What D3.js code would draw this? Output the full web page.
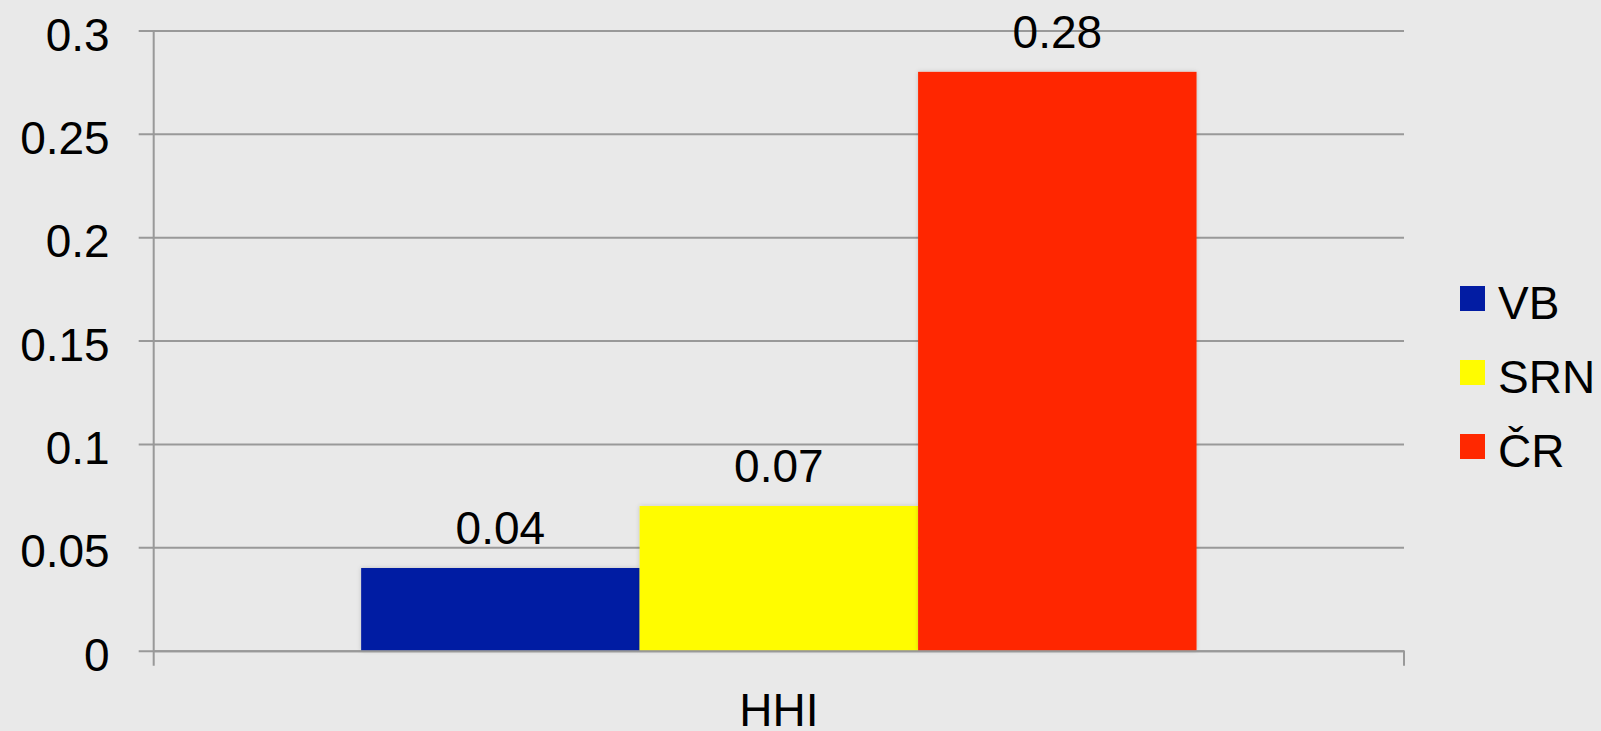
<!DOCTYPE html>
<html>
<head>
<meta charset="utf-8">
<script src="https://cdn.jsdelivr.net/npm/d3@7"></script>
<style>
  html, body { margin: 0; padding: 0; background: #e9e9e9; }
  svg { display: block; font-family: "Liberation Sans", Arial, sans-serif; }
</style>
</head>
<body>
<div id="chart"></div>
<script>
var categories = ['HHI'],
series = ['VB', 'SRN', 'ČR'],
values = [0.04, 0.07, 0.28],
colors = ['#021ca3', '#fffc00', '#ff2800'],
yTicks = [0, 0.05, 0.1, 0.15, 0.2, 0.25, 0.3];

var W = 1601, H = 731,
plotLeft = 153.7, plotRight = 1404, plotTop = 30.5, plotBottom = 650.7,
fontSize = 46;

var svg = d3.select('#chart').
append('svg').
attr('width', W).
attr('height', H);

var y = d3.scaleLinear().
domain([0, 0.3]).
range([plotBottom, plotTop]);

var x0 = d3.scaleBand().
domain(categories).
range([plotLeft, plotRight]);

var x1 = d3.scaleBand().
domain(series).
range([0, x0.bandwidth()]).
paddingInner(0).
paddingOuter(0.745);

// soft shadow like the original bars
var defs = svg.append('defs');
var f = defs.append('filter').attr('id', 'shadow').
attr('x', '-10%').attr('y', '-10%').attr('width', '120%').attr('height', '120%');
f.append('feDropShadow').attr('dx', 0).attr('dy', 0).attr('stdDeviation', 2).
attr('flood-color', '#000').attr('flood-opacity', 0.18);

// gridlines + y axis
var yAxis = d3.axisLeft(y).
tickValues(yTicks).
tickSize(-(plotRight - plotLeft)).
tickSizeOuter(0).
tickPadding(0).
tickFormat(d => d3.format('')(d));

var gy = svg.append('g').
attr('transform', 'translate(' + plotLeft + ',0)').
call(yAxis);
gy.select('.domain').remove();
gy.selectAll('.tick line').
attr('x1', -15).
attr('stroke', '#999').
attr('stroke-width', 2);
gy.selectAll('.tick text').
attr('x', -44).
attr('dy', 19.5).
attr('text-anchor', 'end').
attr('font-size', fontSize).
attr('fill', '#000');

// vertical axis line
svg.append('line').
attr('x1', plotLeft).attr('x2', plotLeft).
attr('y1', plotTop).attr('y2', plotBottom + 15).
attr('stroke', '#999').
attr('stroke-width', 2);

// bars
var g = svg.append('g').
selectAll('g').
data(categories).
enter().
append('g').
attr('transform', d => 'translate(' + x0(d) + ',0)');

g.selectAll('rect').
data(series.map((s, i) => ({ s: s, v: values[i], c: colors[i] }))).
enter().
append('rect').
attr('x', d => x1(d.s)).
attr('y', d => y(d.v)).
attr('width', x1.bandwidth()).
attr('height', d => y(0) - y(d.v)).
attr('fill', d => d.c).
attr('filter', 'url(#shadow)');

g.selectAll('text.val').
data(series.map((s, i) => ({ s: s, v: values[i] }))).
enter().
append('text').
attr('class', 'val').
attr('x', d => x1(d.s) + x1.bandwidth() / 2).
attr('y', d => y(d.v) - 24).
attr('text-anchor', 'middle').
attr('font-size', fontSize).
text(d => d.v);

// x axis
var xAxis = d3.axisBottom(x0).
tickSize(0).
tickPadding(0);
var gx = svg.append('g').
attr('transform', 'translate(0,' + plotBottom + ')').
call(xAxis);
gx.select('.domain').
attr('stroke', '#999').
attr('stroke-width', 2);
gx.selectAll('.tick text').
attr('y', 75).
attr('dy', 0).
attr('font-size', fontSize).
attr('fill', '#000');
gx.append('line').
attr('x1', plotRight).attr('x2', plotRight).
attr('y1', 0).attr('y2', 15).
attr('stroke', '#999').
attr('stroke-width', 2);

// legend
var leg = svg.append('g').
attr('transform', 'translate(1460,286)').
selectAll('g').
data(series).
enter().
append('g').
attr('transform', (d, i) => 'translate(0,' + i * 74 + ')');

leg.append('rect').
attr('width', 25).
attr('height', 25).
attr('fill', (d, i) => colors[i]);

leg.append('text').
attr('x', 38).
attr('y', 33).
attr('font-size', fontSize).
text(d => d);
</script>
</body>
</html>
